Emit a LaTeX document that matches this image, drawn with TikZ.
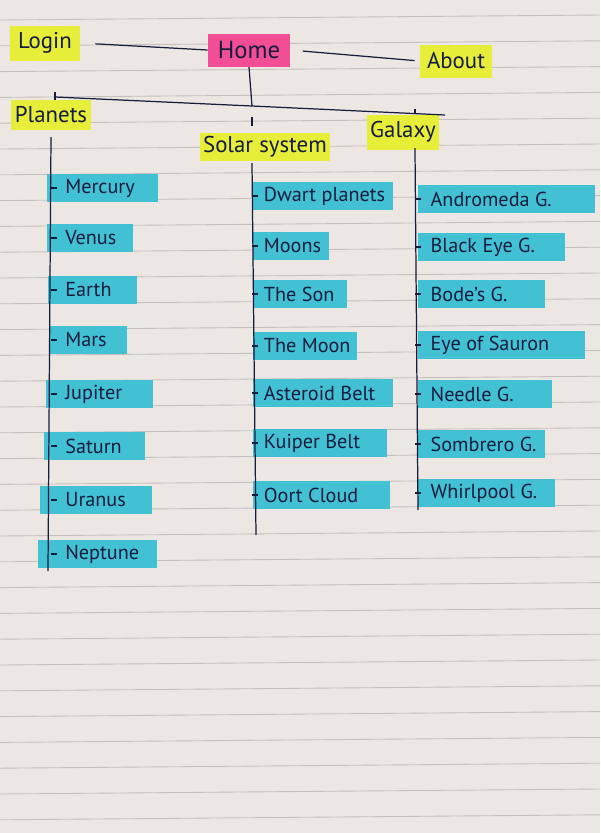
\documentclass[tikz,border=0pt]{standalone}
\usepackage{fontspec}
\setmainfont{PT Sans}
\usetikzlibrary{calc}
\definecolor{paper}{RGB}{237,231,227}
\definecolor{rulec}{RGB}{196,192,190}
\definecolor{hlyellow}{RGB}{230,238,58}
\definecolor{hlpink}{RGB}{242,78,150}
\definecolor{hlcyan}{RGB}{66,192,212}
\definecolor{inkc}{RGB}{22,28,62}
\newcommand\leaftext[3]{\makebox[#1pt][l]{\hspace*{#2pt}#3}}
\begin{document}
\begin{tikzpicture}[x=0.02cm, y=-0.02cm, ink/.style={draw=inkc, line width=0.7pt},
    hl/.style={text=inkc, inner sep=2pt, font=\fontsize{13}{16}\selectfont},
    headbox/.style={hl, fill=hlyellow, minimum height=0.62cm},
    leafbox/.style={hl, fill=hlcyan, anchor=west, minimum height=0.56cm, inner xsep=3pt,
      font=\fontsize{11.5}{14}\selectfont}]
  \fill[paper] (0,0) rectangle (600,833);
  \useasboundingbox (0,0) rectangle (600,833);
  \foreach \k in {0,...,31}
    \draw[rulec, line width=0.5pt] (0,20+25.8*\k) -- (600,15+25.8*\k);

  \node[headbox, minimum width=1.4cm, minimum height=0.7cm] (login) at (45,43) {Login};
  \node[headbox, fill=hlpink, minimum width=1.64cm, minimum height=0.66cm, font=\fontsize{14}{16}\selectfont] (home) at (249,50) {Home};
  \node[headbox, minimum width=1.44cm, minimum height=0.66cm] (about) at (456,61) {About};
  \node[headbox, minimum width=1.56cm, minimum height=0.6cm] (planets) at (51,115) {Planets};
  \node[headbox, minimum width=2.2cm, minimum height=0.54cm] (solar) at (265,147) {Solar system};
  \node[headbox, minimum width=1.08cm, minimum height=0.7cm] (galaxy) at (403,132) {Galaxy};

  \foreach \n/\t/\x/\r/\y in {mercury/Mercury/47/158/188, venus/Venus/47/133/238, earth/Earth/48/137/290,
      mars/Mars/49/127/340, jupiter/Jupiter/46/153/394, saturn/Saturn/44/145/446, uranus/Uranus/40/152/500,
      neptune/Neptune/38/157/554}{
    \pgfmathsetmacro\w{(\r-\x)*0.5690-6}
    \pgfmathsetmacro\s{(65-\x)*0.5690-3}
    \node[leafbox] (p-\n) at (\x,\y) {\leaftext{\w}{\s}{\t}};}
  \foreach \n/\t/\r/\y in {dwarf/Dwart planets/393/196, moons/Moons/329/246, sun/The Son/347/294,
      moon/The Moon/357/346, asteroid/Asteroid Belt/393/393, kuiper/Kuiper Belt/387/443, oort/Oort Cloud/390/495}{
    \pgfmathsetmacro\w{(\r-253)*0.5690-6}
    \node[leafbox] (s-\n) at (253,\y) {\leaftext{\w}{3}{\t}};}
  \foreach \n/\t/\r/\y in {andromeda/Andromeda G./595/199, blackeye/Black Eye G./565/247, bode/Bode's G./545/294,
      sauron/Eye of Sauron/585/345, needle/Needle G./552/394, sombrero/Sombrero G./545/444, whirlpool/Whirlpool G./555/493}{
    \pgfmathsetmacro\w{(\r-418)*0.5690-6}
    \node[leafbox] (g-\n) at (418,\y) {\leaftext{\w}{4}{\t}};}

  \draw[ink, shorten <=0.3cm] (login.east) -- (home.west);
  \draw[ink, shorten <=0.25cm, shorten >=0.1cm] (home.east) -- (about.west);

  \coordinate (bar l) at (55,97);
  \coordinate (bar m) at (252,106);
  \coordinate (bar g) at (415,113.5);
  \coordinate (bar r) at (445,115);
  \draw[ink] (home.south) -- (bar m);
  \draw[ink] (bar l) -- (bar m) -- (bar r);
  \draw[ink] (bar l) ++(0,-5) -- (planets.north -| bar l);
  \draw[ink] (bar g) ++(0,-5) -- (galaxy.north -| bar g);
  \draw[ink] (bar m) ++(0,11) -- ++(0,9);

  \coordinate (pl top) at (51,137);
  \coordinate (ss top) at (252,163);
  \coordinate (gx top) at (415,148);
  \draw[ink] (pl top) -- (48,571);
  \draw[ink] (ss top) -- (256,535);
  \draw[ink] (gx top) -- (418,510);
  \foreach \n in {mercury,venus,earth,mars,jupiter,saturn,uranus,neptune}
    \draw[ink] (p-\n.west -| pl top) -- ++(6,0);
  \foreach \n in {dwarf,moons,sun,moon,asteroid,kuiper,oort}
    \draw[ink] (s-\n.west -| ss top) -- ++(6,0);
  \foreach \n in {andromeda,blackeye,bode,sauron,needle,sombrero,whirlpool}
    \draw[ink] (g-\n.west -| gx top) -- ++(6,0);
\end{tikzpicture}
\end{document}
